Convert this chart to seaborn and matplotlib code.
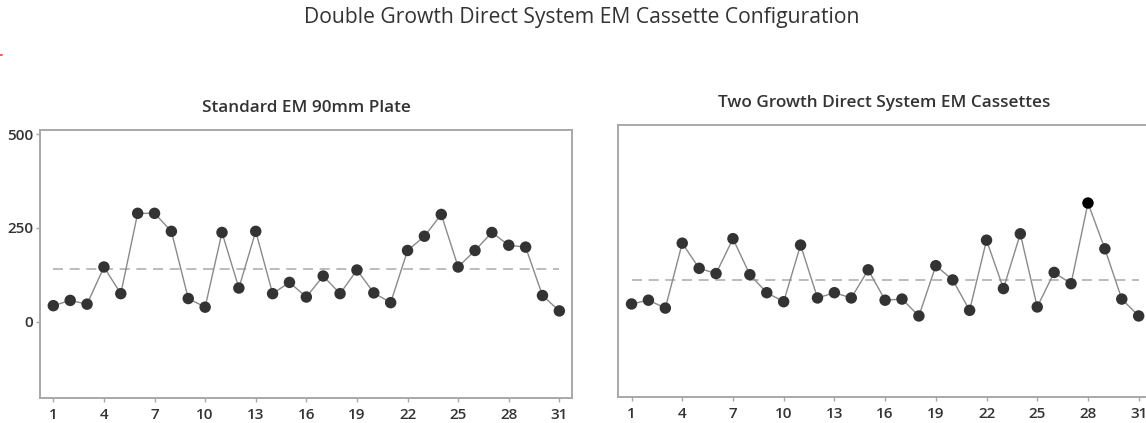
import matplotlib.pyplot as plt
import numpy as np
import pandas as pd
import seaborn as sns
from matplotlib.lines import Line2D

sns.set_theme(style="white")
plt.rcParams["font.family"] = ["Open Sans", "DejaVu Sans"]

# Day index shared by both panels
days = list(range(1, 32))

# Standard EM 90mm plate counts
plate_counts = [43, 57, 47, 146, 75, 289, 289, 241, 62, 39,
                238, 90, 241, 75, 105, 66, 122, 75, 138, 77,
                51, 190, 228, 286, 146, 190, 238, 204, 199, 70, 29]

# Two Growth Direct System EM cassettes counts
cassette_counts = [52, 62, 41, 214, 147, 133, 226, 130, 82, 58,
                   209, 68, 82, 68, 143, 62, 65, 20, 154, 116,
                   35, 222, 93, 239, 44, 136, 106, 321, 199, 65, 20]
# point flagged in black on the right panel
cassette_flag = [d == 28 for d in days]

panel_titles = ["Standard EM 90mm Plate", "Two Growth Direct System EM Cassettes"]
suptitle = "Double Growth Direct System EM Cassette Configuration"
x_ticks = list(range(1, 32, 3))
y_ticks = [0, 250, 500]

W, H = 1146, 423
fig = plt.figure(figsize=(W / 100, H / 100), dpi=100)

ax_l = fig.add_axes([40 / W, 1 - 398 / H, 532 / W, 268 / H])
ax_r = fig.add_axes([618 / W, 1 - 397 / H, 532 / W, 272 / H])

spine_c = "#a8a8a8"
text_c = "#333333"


def draw_panel(ax, counts, flags, title, ylim, xlim):
    df = pd.DataFrame({"day": days, "count": counts, "flag": flags})
    sns.lineplot(data=df, x="day", y="count", ax=ax, color="#8a8a8a",
                 linewidth=1.0, zorder=2)
    sns.scatterplot(data=df, x="day", y="count", hue="flag", ax=ax,
                    palette={False: "#333333", True: "#000000"},
                    s=68, edgecolor="none", legend=False, zorder=3)
    ax.hlines(np.mean(counts), days[0], days[-1], colors="#b0b0b0",
              linestyles=(0, (6, 4)), linewidth=1.2, zorder=1)
    ax.set_xlim(*xlim)
    ax.set_ylim(*ylim)
    ax.set_xticks(x_ticks)
    ax.set_xlabel("")
    ax.set_ylabel("")
    ax.set_title(title, fontsize=12.3, color=text_c, pad=13,
                 fontweight="semibold")
    for s in ax.spines.values():
        s.set_color(spine_c)
        s.set_linewidth(1.4)
    ax.tick_params(axis="x", which="both", bottom=True, length=3, width=1,
                   color=spine_c, labelsize=11, labelcolor=text_c, pad=4)
    for lbl in ax.get_xticklabels():
        lbl.set_fontweight("semibold")


draw_panel(ax_l, plate_counts, [False] * len(days), panel_titles[0],
           (-203, 511), (0.21, 31.75))
ax_l.set_yticks(y_ticks)
ax_l.tick_params(axis="y", left=True, length=3, width=1, color=spine_c,
                 labelsize=11, labelcolor=text_c, pad=2)
for lbl in ax_l.get_yticklabels():
    lbl.set_fontweight("semibold")

draw_panel(ax_r, cassette_counts, cassette_flag, panel_titles[1],
           (-196, 529), (0.2, 31.67))
ax_r.set_yticks([])

fig.text(582 / W, 1 - 18 / H, suptitle, ha="center", va="center",
         fontsize=15.2, color=text_c)

# small red mark at the left edge
fig.add_artist(Line2D([0, 2 / W], [1 - 55 / H, 1 - 55 / H],
                      color="#ff6060", linewidth=1.5))

fig.savefig("out.png", dpi=100)
